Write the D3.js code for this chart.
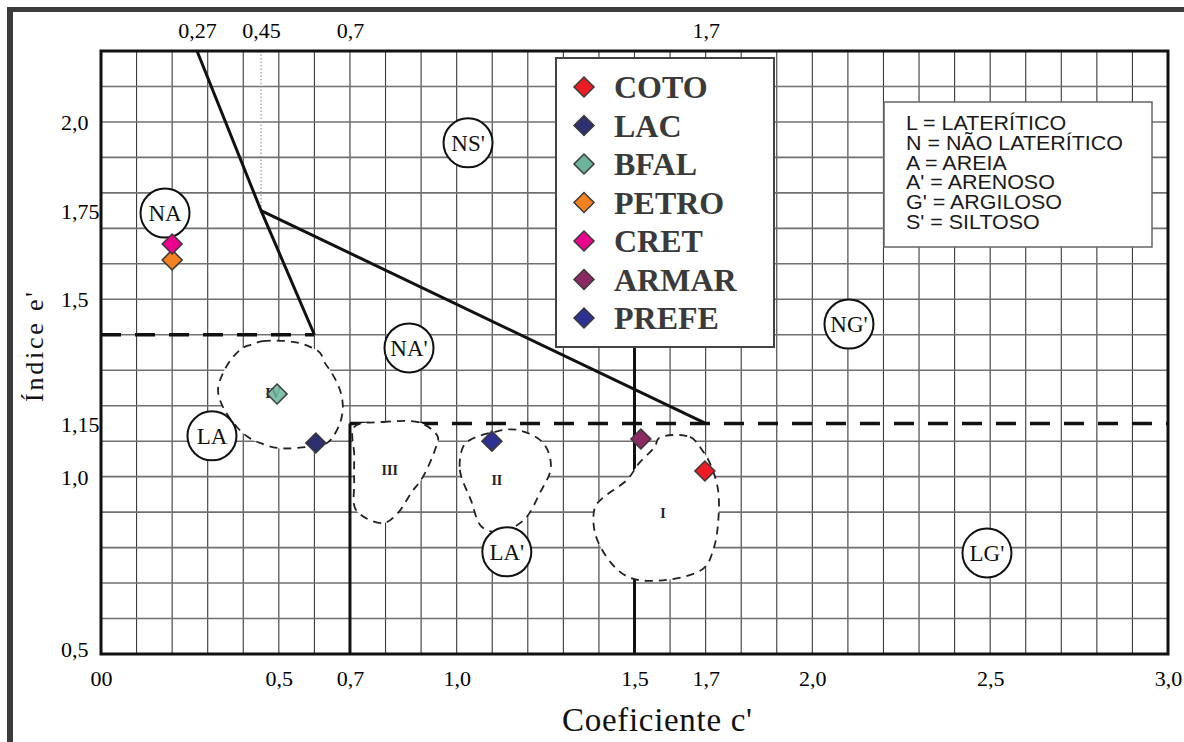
<!DOCTYPE html>
<html>
<head>
<meta charset="utf-8">
<script src="https://cdn.jsdelivr.net/npm/d3@7"></script>
<style>
  body { margin: 0; background: #fff; }
  #app { width: 1184px; height: 742px; }
</style>
</head>
<body>
<div id="app"></div>
<script>
// soil samples (c', e')
const samples = ['COTO', 'LAC', 'BFAL', 'PETRO', 'CRET', 'ARMAR', 'PREFE'];
const cValues = [1.698, 0.604, 0.495, 0.200, 0.200, 1.518, 1.099];
const eValues = [1.016, 1.095, 1.233, 1.611, 1.656, 1.106, 1.100];
const sampleColors = ['#ec1c24', '#2e2f6e', '#6cb59c', '#f58220', '#ec008c', '#8b2a62', '#2e3192'];

// MCT group labels
const groups = ['NA', "NS'", "NA'", 'LA', "LA'", "NG'", "LG'"];
const groupC = [0.180, 1.032, 0.866, 0.312, 1.141, 2.103, 2.491];
const groupE = [1.743, 1.941, 1.363, 1.115, 0.788, 1.430, 0.785];

// boundary lines
const solidLines = [
  [[0.27, 2.2], [0.45, 1.75], [0.6, 1.4]],
  [[0.45, 1.75], [1.7, 1.15]],
  [[0.7, 1.15], [0.7, 0.5]],
  [[1.5, 1.4], [1.5, 0.5]]
];
const dashedLines = [
  [[0, 1.4], [0.6, 1.4]],
  [[0.7, 1.15], [3.0, 1.15]]
];
const dottedLines = [
  [[0.45, 2.2], [0.45, 1.75]]
];

// dashed regions
const regionNames = ['IV', 'III', 'II', 'I'];
const regionLabelC = [0.484, 0.812, 1.113, 1.580];
const regionLabelE = [1.236, 1.019, 0.991, 0.898];
const regionOutlines = [
  [[0.419, 1.371], [0.455, 1.382], [0.540, 1.380], [0.588, 1.366], [0.616, 1.349], [0.630, 1.320],
   [0.649, 1.292], [0.672, 1.244], [0.680, 1.196], [0.672, 1.151], [0.652, 1.112], [0.635, 1.095],
   [0.551, 1.081], [0.495, 1.081], [0.447, 1.095], [0.413, 1.112], [0.382, 1.140], [0.343, 1.196],
   [0.329, 1.244], [0.343, 1.292], [0.371, 1.337], [0.399, 1.363]],
  [[0.712, 1.140], [0.793, 1.154], [0.900, 1.151], [0.947, 1.112], [0.942, 1.084], [0.905, 0.999],
   [0.872, 0.954], [0.835, 0.898], [0.793, 0.869], [0.717, 0.906], [0.712, 0.982], [0.712, 1.061]],
  [[1.018, 1.084], [1.009, 1.019], [1.040, 0.934], [1.071, 0.858], [1.122, 0.844], [1.189, 0.878],
   [1.234, 0.954], [1.265, 1.027], [1.243, 1.095], [1.170, 1.132], [1.105, 1.126], [1.037, 1.103]],
  [[1.569, 1.109], [1.656, 1.112], [1.690, 1.075], [1.712, 1.038], [1.735, 0.962], [1.735, 0.869],
   [1.723, 0.799], [1.695, 0.742], [1.591, 0.709], [1.490, 0.714], [1.434, 0.757], [1.389, 0.841],
   [1.389, 0.914], [1.411, 0.940], [1.479, 0.991], [1.513, 1.038], [1.557, 1.084]]
];

// ticks
const bottomTicks = [0, 0.5, 0.7, 1.0, 1.5, 1.7, 2.0, 2.5, 3.0];
const bottomLabels = ['00', '0,5', '0,7', '1,0', '1,5', '1,7', '2,0', '2,5', '3,0'];
const topTicks = [0.27, 0.45, 0.7, 1.7];
const topLabels = ['0,27', '0,45', '0,7', '1,7'];
const leftTicks = [2.0, 1.75, 1.5, 1.15, 1.0, 0.5];
const leftLabels = ['2,0', '1,75', '1,5', '1,15', '1,0', '0,5'];

const abbreviations = [
  'L = LATERÍTICO',
  'N = NÃO LATERÍTICO',
  'A = AREIA',
  "A' = ARENOSO",
  "G' = ARGILOSO",
  "S' = SILTOSO"
];

const width = 1184;
const height = 742;
const serif = '"Liberation Serif", "Times New Roman", serif';
const sans = '"Liberation Sans", Arial, sans-serif';

const svg = d3.select('#app').append('svg')
  .attr('width', width)
  .attr('height', height);

const x = d3.scaleLinear().domain([0, 3]).range([101, 1168]);
const y = d3.scaleLinear().domain([0.5, 2.2]).range([654, 51]);

// scanned page frame
svg.append('rect').attr('x', 7).attr('y', 7).attr('width', width - 7).attr('height', 5).attr('fill', '#3b3b3d');
svg.append('rect').attr('x', 7).attr('y', 7).attr('width', 6).attr('height', height - 7).attr('fill', '#3b3b3d');

// grid
const grid = svg.append('g');
grid.selectAll('line.v')
  .data(d3.range(1, 30).map(i => i / 10))
  .join('line')
  .attr('class', 'v')
  .attr('x1', d => x(d)).attr('x2', d => x(d))
  .attr('y1', y(2.2)).attr('y2', y(0.5))
  .attr('stroke', '#3a3a3a')
  .attr('stroke-width', 1.1);
grid.selectAll('line.h')
  .data(d3.range(6, 22).map(i => i / 10))
  .join('line')
  .attr('class', 'h')
  .attr('y1', d => y(d)).attr('y2', d => y(d))
  .attr('x1', x(0)).attr('x2', x(3))
  .attr('stroke', '#707070')
  .attr('stroke-width', 1.6);

const line = d3.line().x(d => x(d[0])).y(d => y(d[1]));

svg.append('g').selectAll('path')
  .data(dottedLines)
  .join('path')
  .attr('d', line)
  .attr('fill', 'none')
  .attr('stroke', '#999')
  .attr('stroke-width', 1.2)
  .attr('stroke-dasharray', '1.5,2');

svg.append('g').selectAll('path')
  .data(solidLines)
  .join('path')
  .attr('d', line)
  .attr('fill', 'none')
  .attr('stroke', '#111')
  .attr('stroke-width', 3);

svg.append('g').selectAll('path')
  .data(dashedLines)
  .join('path')
  .attr('d', line)
  .attr('fill', 'none')
  .attr('stroke', '#111')
  .attr('stroke-width', 3.5)
  .attr('stroke-dasharray', '20,14');

// frame of plot
svg.append('rect')
  .attr('x', x(0)).attr('y', y(2.2))
  .attr('width', x(3) - x(0)).attr('height', y(0.5) - y(2.2))
  .attr('fill', 'none')
  .attr('stroke', '#111')
  .attr('stroke-width', 3);

// regions
const blob = d3.line().x(d => x(d[0])).y(d => y(d[1])).curve(d3.curveCatmullRomClosed);
svg.append('g').selectAll('path')
  .data(regionOutlines)
  .join('path')
  .attr('d', blob)
  .attr('fill', '#fff')
  .attr('stroke', '#222')
  .attr('stroke-width', 1.8)
  .attr('stroke-dasharray', '8,6');

svg.append('g').selectAll('text')
  .data(regionNames)
  .join('text')
  .attr('x', (d, i) => x(regionLabelC[i]))
  .attr('y', (d, i) => y(regionLabelE[i]))
  .attr('dy', '0.35em')
  .attr('text-anchor', 'middle')
  .attr('font-family', serif)
  .attr('font-weight', 'bold')
  .attr('font-size', 14)
  .attr('fill', '#222')
  .text(d => d);

// group circles
const grp = svg.append('g').selectAll('g')
  .data(groups)
  .join('g')
  .attr('transform', (d, i) => `translate(${x(groupC[i])},${y(groupE[i])})`);
grp.append('circle')
  .attr('r', 24.5)
  .attr('fill', '#fff')
  .attr('stroke', '#111')
  .attr('stroke-width', 2);
grp.append('text')
  .attr('text-anchor', 'middle')
  .attr('dy', '0.35em')
  .attr('font-family', serif)
  .attr('font-size', 23)
  .attr('fill', '#111')
  .text(d => d);

// samples
const diamond = d3.symbol(d3.symbolSquare, 200);
svg.append('g').selectAll('path')
  .data(samples)
  .join('path')
  .attr('d', diamond)
  .attr('transform', (d, i) => `translate(${x(cValues[i])},${y(eValues[i])}) rotate(45)`)
  .attr('fill', (d, i) => sampleColors[i])
  .attr('fill-opacity', d => d === 'BFAL' ? 0.85 : 1)
  .attr('stroke', '#3a3a3a')
  .attr('stroke-width', 1.5);

// axes
const axisFont = g => g
  .attr('font-family', serif)
  .attr('font-size', 22)
  .call(s => s.select('.domain').remove())
  .call(s => s.selectAll('text').attr('fill', '#000'));

svg.append('g')
  .attr('transform', `translate(0,${y(0.5)})`)
  .call(d3.axisBottom(x).tickValues(bottomTicks).tickFormat((d, i) => bottomLabels[i]).tickSize(0).tickPadding(16))
  .call(axisFont);

svg.append('g')
  .attr('transform', `translate(0,${y(2.2)})`)
  .call(d3.axisTop(x).tickValues(topTicks).tickFormat((d, i) => topLabels[i]).tickSize(0).tickPadding(13))
  .call(axisFont);

svg.append('g')
  .attr('transform', `translate(${x(0)},0)`)
  .call(d3.axisLeft(y).tickValues(leftTicks).tickFormat((d, i) => leftLabels[i]).tickSize(0))
  .call(axisFont)
  .call(g => g.selectAll('text')
    .attr('text-anchor', 'start')
    .attr('x', -40)
    .attr('dy', d => d === 0.5 ? '0.1em' : '0.35em'));

// axis titles
svg.append('text')
  .attr('x', 657).attr('y', 731)
  .attr('text-anchor', 'middle')
  .attr('font-family', serif)
  .attr('font-size', 33)
  .attr('fill', '#111')
  .attr('textLength', 190)
  .text("Coeficiente c'");

svg.append('text')
  .attr('transform', 'translate(43,347) rotate(-90)')
  .attr('text-anchor', 'middle')
  .attr('font-family', serif)
  .attr('font-size', 26)
  .attr('fill', '#111')
  .attr('textLength', 110)
  .text("Índice  e'");

// sample legend
const legend = svg.append('g');
legend.append('rect')
  .attr('x', 556).attr('y', 58)
  .attr('width', 218).attr('height', 289)
  .attr('fill', '#fff')
  .attr('stroke', '#444')
  .attr('stroke-width', 2);
const item = legend.selectAll('g')
  .data(samples)
  .join('g')
  .attr('transform', (d, i) => `translate(584,${87 + i * 38.5})`);
item.append('path')
  .attr('d', diamond)
  .attr('transform', 'rotate(45)')
  .attr('fill', (d, i) => sampleColors[i])
  .attr('stroke', '#3a3a3a')
  .attr('stroke-width', 1.5);
item.append('text')
  .attr('x', 30)
  .attr('dy', '0.35em')
  .attr('font-family', serif)
  .attr('font-weight', 'bold')
  .attr('font-size', 32)
  .attr('fill', '#3a3a3a')
  .text(d => d);

// abbreviations box
const abbr = svg.append('g');
abbr.append('rect')
  .attr('x', 884).attr('y', 102)
  .attr('width', 268).attr('height', 145)
  .attr('fill', '#fff')
  .attr('stroke', '#666')
  .attr('stroke-width', 1.5);
abbr.append('g')
  .attr('transform', 'translate(906,0) scale(1.1,1)')
  .selectAll('text')
  .data(abbreviations)
  .join('text')
  .attr('x', 0)
  .attr('y', (d, i) => 130 + i * 19.8)
  .attr('font-family', sans)
  .attr('font-size', 19.5)
  .attr('fill', '#1a1a1a')
  .text(d => d);
</script>
</body>
</html>
